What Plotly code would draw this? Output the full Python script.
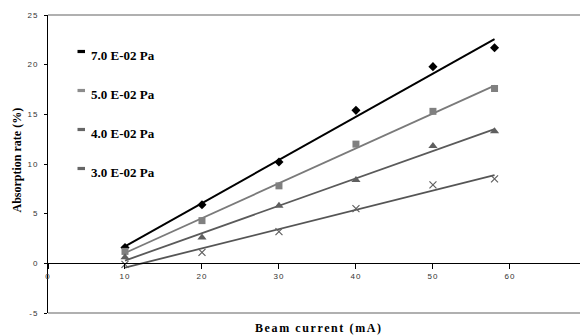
import numpy as np
import plotly.graph_objects as go

# ---- data ----
beam_current = [10, 20, 30, 40, 50, 58]
series_names = ["7.0 E-02 Pa", "5.0 E-02 Pa", "4.0 E-02 Pa", "3.0 E-02 Pa"]
rate_70 = [1.6, 5.9, 10.2, 15.4, 19.8, 21.7]
rate_50 = [1.2, 4.3, 7.8, 12.0, 15.3, 17.6]
rate_40 = [0.6, 2.6, 5.8, 8.4, 11.8, 13.3]
rate_30 = [-0.1, 1.1, 3.2, 5.5, 7.9, 8.5]
x_ticks = [0, 10, 20, 30, 40, 50, 60, 70]
y_ticks = [-5, 0, 5, 10, 15, 20, 25]
x_title = "Beam current (mA)"
y_title = "Absorption rate (%)"

# ---- styles ----
series_values = [rate_70, rate_50, rate_40, rate_30]
marker_symbols = ["diamond", "square", "triangle-up", "x-thin-open"]
marker_colors = ["#000000", "#808080", "#5f5f5f", "#606060"]
marker_sizes = [7, 7, 8, 7]
line_colors = ["#000000", "#7a7a7a", "#5a5a5a", "#555555"]
line_widths = [2.0, 1.8, 1.8, 1.8]
legend_colors = ["#000000", "#8c8c8c", "#666666", "#666666"]
frame_color = "#b0b0b0"

W, H = 580, 335
ML, MR, MT, MB = 48, 0, 15, 22
PW, PH = W - ML - MR, H - MT - MB
X_RANGE = [0, 69.1]


def px_x(p):
    return (p - ML) / PW


def px_y(p):
    return (H - MB - p) / PH


fig = go.Figure()

for name, vals, sym, mc, ms, lc, lw in zip(series_names, series_values, marker_symbols,
                                           marker_colors, marker_sizes, line_colors, line_widths):
    slope, intercept = np.polyfit(beam_current, vals, 1)
    xfit = [beam_current[0], beam_current[-1]]
    yfit = [slope * v + intercept for v in xfit]
    fig.add_trace(go.Scatter(x=xfit, y=yfit, mode="lines", name=name,
                             line=dict(color=lc, width=lw), showlegend=False,
                             hoverinfo="skip"))
    mk = dict(symbol=sym, color=mc, size=ms)
    if sym == "x-thin-open":
        mk["line"] = dict(color=mc, width=1.2)
    fig.add_trace(go.Scatter(x=beam_current, y=vals, mode="markers", name=name,
                             marker=mk, showlegend=False))

tick_span = "<span style='letter-spacing:1px'>{}</span>"

fig.update_layout(
    width=W, height=H,
    margin=dict(l=ML, r=MR, t=MT, b=MB, autoexpand=False),
    paper_bgcolor="white", plot_bgcolor="white",
    showlegend=False,
    xaxis=dict(range=X_RANGE, anchor="free", position=5 / 30, automargin=False,
               showline=True, linecolor="black", linewidth=1,
               ticks="outside", ticklen=5, tickcolor="black", tickwidth=1,
               tickvals=x_ticks, ticktext=[tick_span.format(v) for v in x_ticks],
               tickfont=dict(family="Liberation Sans", size=8, color="#333333"),
               showgrid=False, zeroline=False),
    yaxis=dict(range=[-5, 25], showline=True, linecolor="black", linewidth=1,
               automargin=False,
               ticks="outside", ticklen=3, tickcolor="black", tickwidth=1,
               tickvals=y_ticks, ticktext=[tick_span.format(v) for v in y_ticks],
               tickfont=dict(family="Liberation Sans", size=8, color="#333333"),
               ticklabelstandoff=4,
               showgrid=False, zeroline=False),
)

# grey frame lines at top and bottom of the plot area (drawn once each)
for yp in (1, 0):
    fig.add_shape(type="line", xref="paper", x0=0, x1=1, yref="paper", y0=yp, y1=yp,
                  line=dict(color=frame_color, width=1.8), layer="above")

# legend (dash + bold label)
for i, (name, col) in enumerate(zip(series_names, legend_colors)):
    dash_y = 51.5 + 39.0 * i
    text_y = 55.5 + 39.0 * i
    fig.add_shape(type="rect", xref="paper", yref="paper",
                  x0=px_x(77.5), x1=px_x(85), y0=px_y(dash_y - 1.6), y1=px_y(dash_y + 1.6),
                  fillcolor=col, line=dict(width=0))
    fig.add_annotation(text="<b>" + name + "</b>", xref="paper", yref="paper",
                       x=px_x(89), y=px_y(text_y), xanchor="left", yanchor="middle",
                       showarrow=False,
                       font=dict(family="Liberation Serif", size=13, color="black"))

# axis titles
fig.add_annotation(text="<b><span style='letter-spacing:1.6px'>" + x_title + "</span></b>",
                   xref="paper", yref="paper", x=px_x(319), y=px_y(328),
                   xanchor="center", yanchor="middle", showarrow=False,
                   font=dict(family="Liberation Serif", size=12, color="black"))
fig.add_annotation(text="<b>" + y_title + "</b>", textangle=-90,
                   xref="paper", yref="paper", x=px_x(16.5), y=px_y(160),
                   xanchor="center", yanchor="middle", showarrow=False,
                   font=dict(family="Liberation Serif", size=12, color="black"))

fig.write_html("out.html", config={"displayModeBar": False},
               post_script="document.body.style.margin='0';document.body.style.overflow='hidden';")
